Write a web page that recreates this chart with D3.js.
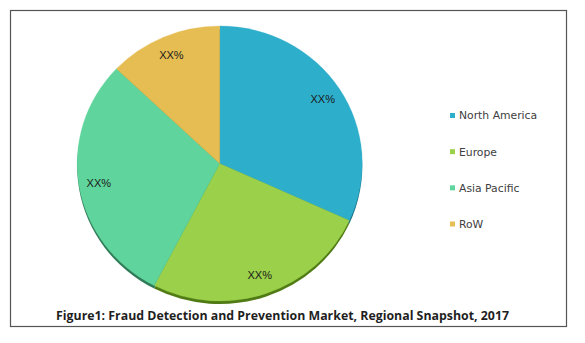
<!DOCTYPE html>
<html><head><meta charset="utf-8">
<script src="https://cdn.jsdelivr.net/npm/d3@7"></script>
<style>html,body{margin:0;padding:0;background:#fff;}svg{display:block;}</style>
</head><body>
<svg id="c" width="585" height="343"></svg>
<script>
const categories = ["North America", "Europe", "Asia Pacific", "RoW"];
const shares = [31.8, 25.8, 29.5, 12.9];
const labels = ["XX%", "XX%", "XX%", "XX%"];
const colors = ["#2DAECB", "#9BD04A", "#5FD49C", "#E5BD52"];
const sideColors = ["#1A6F83", "#4F7A14", "#2F7A57", "#8C6E20"];
const caption = "Figure1: Fraud Detection and Prevention Market, Regional Snapshot, 2017";

const svg = d3.select("#c");
svg.append("rect").attr("x", 10.5).attr("y", 10.5).attr("width", 556).attr("height", 316)
  .attr("fill", "#fff").attr("stroke", "#555").attr("stroke-width", 1.2);

const cx = 219.7, cy = 163.5, rx = 142.5, ry = 137.5, depth = 3;
const data = categories.map((c, i) => ({cat: c, v: shares[i], lab: labels[i], i}));
const pie = d3.pie().value(d => d.v).sort(null).startAngle(0).endAngle(2 * Math.PI);
const arcs = pie(data);
const arc = d3.arc().innerRadius(0).outerRadius(rx);

// side (3D rim)
const side = svg.append("g").attr("transform", `translate(${cx},${cy + depth}) scale(1,${ry / rx})`);
side.selectAll("path").data(arcs).join("path")
  .attr("d", arc).attr("fill", d => sideColors[d.data.i]);

const g = svg.append("g").attr("transform", `translate(${cx},${cy}) scale(1,${ry / rx})`);
g.selectAll("path").data(arcs).join("path")
  .attr("d", arc).attr("fill", d => colors[d.data.i])
  .attr("stroke", d => colors[d.data.i]).attr("stroke-width", 0.3);

const labR = rx * 0.86;
svg.append("g").selectAll("text").data(arcs).join("text")
  .attr("x", d => cx + Math.sin((d.startAngle + d.endAngle) / 2) * labR)
  .attr("y", d => cy - Math.cos((d.startAngle + d.endAngle) / 2) * labR * ry / rx)
  .attr("dy", "0.35em")
  .attr("text-anchor", "middle")
  .attr("font-family", "Liberation Sans, Arial, sans-serif")
  .attr("font-size", 11).attr("fill", "#1a1a1a")
  .text(d => d.data.lab);

// legend
const ly = d3.scalePoint().domain(categories).range([115.5, 224]);
const leg = svg.append("g").selectAll("g").data(data).join("g")
  .attr("transform", d => `translate(450,${ly(d.cat)})`);
leg.append("rect").attr("x", 0).attr("y", -2.5).attr("width", 5).attr("height", 5)
  .attr("fill", d => colors[d.i]);
leg.append("text").attr("x", 9).attr("y", 0).attr("dy", "0.36em")
  .attr("font-family", "DejaVu Sans, sans-serif").attr("font-size", 10.8)
  .attr("fill", "#404040").text(d => d.cat);

svg.append("text").attr("x", 56).attr("y", 320)
  .attr("font-family", "Open Sans, Liberation Sans, sans-serif").attr("font-weight", "bold")
  .attr("font-size", 12.5).attr("fill", "#1f1f1f")
  .attr("textLength", 453).attr("lengthAdjust", "spacingAndGlyphs")
  .text(caption);
</script>
</body></html>
